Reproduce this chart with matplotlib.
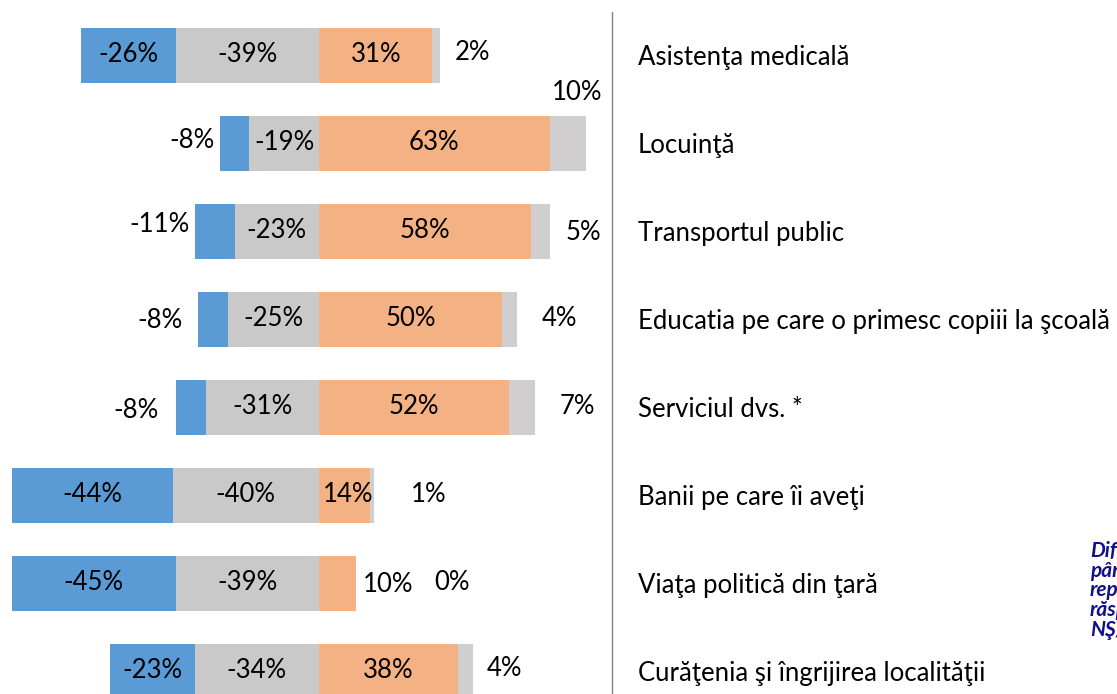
import matplotlib
matplotlib.use("Agg")
import matplotlib.pyplot as plt

# data
categories = ["Asistenţa medicală", "Locuinţă", "Transportul public",
              "Educatia pe care o primesc copiii la şcoală", "Serviciul dvs. *",
              "Banii pe care îi aveţi", "Viaţa politică din ţară",
              "Curăţenia şi îngrijirea localităţii"]
very_dissat = [-26, -8, -11, -8, -8, -44, -45, -23]
dissat = [-39, -19, -23, -25, -31, -40, -39, -34]
satisfied = [31, 63, 58, 50, 52, 14, 10, 38]
dont_know = [2, 10, 5, 4, 7, 1, 0, 4]

note = "Diferenţa\npână la 100%\nreprezintă\nrăspunsurile\nNŞ/NR"

BLUE = "#5B9BD5"
GREY = "#C9C9C9"
ORANGE = "#F4B183"
LIGHTGREY = "#D0CECE"

W, H = 1117, 694
zero_px = 319
px_per_pct = 3.66
row_px = 88
first_row_px = 55

# label nudges in pixels (dx, dy), like hand placed excel labels
blue_nudge = {1: (-43, -3), 2: (-55, -6), 3: (-53, 2), 4: (-55, 3)}
orange_nudge = {5: (3, -1), 6: (51, 1)}
dk_nudge = [(33, -2), (-9, -51), (34, 2), (43, 0), (42, 0), (55, -1), (96, -1), (32, -2)]

plt.rcParams['font.family'] = ['Lato', 'DejaVu Sans']

fig = plt.figure(figsize=(W / 100, H / 100), dpi=100)
ax = fig.add_axes([0, 0, 1, 1])
ax.set_xlim(-zero_px / px_per_pct, (W - zero_px) / px_per_pct)
ax.set_ylim((H - first_row_px) / row_px, -first_row_px / row_px)
ax.set_axis_off()

y = list(range(len(categories)))
h = 55 / row_px

ax.barh(y, very_dissat, left=dissat, height=h, color=BLUE)
ax.barh(y, dissat, height=h, color=GREY)
ax.barh(y, satisfied, height=h, color=ORANGE)
ax.barh(y, dont_know, left=satisfied, height=h, color=LIGHTGREY)

fs = 18.5
def px(dx, dy):
    # convert pixel nudges to data units
    return dx / px_per_pct, dy / row_px

for i in y:
    # blue
    cx = dissat[i] + very_dissat[i] / 2
    dx, dy = px(*blue_nudge.get(i, (0, 0)))
    ax.text(cx + dx, i + dy, f"{very_dissat[i]}%", ha="center", va="center", fontsize=fs)
    # grey
    ax.text(dissat[i] / 2, i, f"{dissat[i]}%", ha="center", va="center", fontsize=fs)
    # orange
    dx, dy = px(*orange_nudge.get(i, (0, 0)))
    ax.text(satisfied[i] / 2 + dx, i + dy, f"{satisfied[i]}%", ha="center", va="center", fontsize=fs)
    # don't know
    end = satisfied[i] + dont_know[i]
    dx, dy = px(*dk_nudge[i])
    ax.text(end + dx, i + dy, f"{dont_know[i]}%", ha="center", va="center", fontsize=fs)
    # category
    ax.text((638 - zero_px) / px_per_pct, i, categories[i], ha="left",
            va="center_baseline", fontsize=fs)

# separator line
line_x = (612 - zero_px) / px_per_pct
ax.plot([line_x, line_x], [(12 - first_row_px) / row_px, (H - first_row_px) / row_px],
        color="#808080", lw=1)

# note on the right, cut by the edge as in the original slide
ax.text((1090 - zero_px) / px_per_pct, (541 - first_row_px) / row_px, note,
        ha="left", va="top", fontsize=15, fontweight="bold", fontstyle="italic",
        color="#10108A", linespacing=0.98)

fig.savefig("out.png", dpi=100)
